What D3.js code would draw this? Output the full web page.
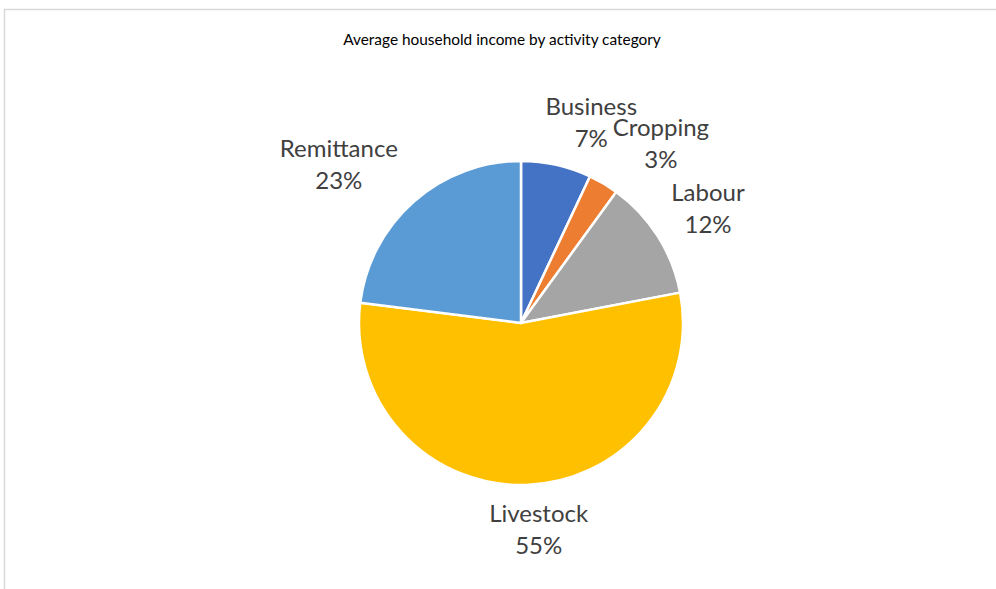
<!DOCTYPE html>
<html>
<head>
<meta charset="utf-8">
<script src="https://cdn.jsdelivr.net/npm/d3@7/dist/d3.min.js"></script>
<style>
  html, body { margin: 0; padding: 0; background: #fff; }
  svg { display: block; }
</style>
</head>
<body>
<svg id="chart" width="996" height="589"></svg>
<script>
// Income shares by activity (percent of average household income)
const categories = ["Business", "Cropping", "Labour", "Livestock", "Remittance"];
const shares = [7, 3, 12, 55, 23];
const sliceColors = ["#4472C4", "#ED7D31", "#A5A5A5", "#FFC000", "#5B9BD5"];
const chartTitle = "Average household income by activity category";

const width = 996, height = 589;
const cx = 521, cy = 323, radius = 162;
const labelRadius = 212;
const fontFamily = "Lato, 'Open Sans', 'Noto Sans', sans-serif";

// Small per-label adjustments so neighbouring labels do not collide
const labelShift = {
  Business: [24, -1],
  Cropping: [32, -5],
  Labour: [8, -8],
  Livestock: [11, -13],
  Remittance: [-42, -7]
};

const svg = d3.select("#chart");

// Chart area frame
svg.append("rect")
  .attr("x", 4.5).attr("y", 9.5)
  .attr("width", width + 20).attr("height", height + 20)
  .attr("fill", "#fff")
  .attr("stroke", "#d9d9d9")
  .attr("stroke-width", 1.5);

svg.append("text")
  .attr("x", 502).attr("y", 45)
  .attr("text-anchor", "middle")
  .attr("font-family", fontFamily)
  .attr("font-size", 15.4)
  .attr("fill", "#000")
  .text(chartTitle);

const data = categories.map((c, i) => ({ name: c, value: shares[i], color: sliceColors[i] }));

const pie = d3.pie().value(d => d.value).sort(null);
const arcs = pie(data);

const arc = d3.arc().innerRadius(0).outerRadius(radius);
const labelArc = d3.arc().innerRadius(labelRadius).outerRadius(labelRadius);

const g = svg.append("g").attr("transform", `translate(${cx},${cy})`);

g.selectAll("path.slice")
  .data(arcs)
  .join("path")
  .attr("class", "slice")
  .attr("d", arc)
  .attr("fill", d => d.data.color)
  .attr("stroke", "#fff")
  .attr("stroke-width", 2.5)
  .attr("stroke-linejoin", "round");

const labels = g.selectAll("text.label")
  .data(arcs)
  .join("text")
  .attr("class", "label")
  .attr("text-anchor", "middle")
  .attr("font-family", fontFamily)
  .attr("font-size", 24)
  .attr("fill", "#404040")
  .attr("transform", d => {
    const [x, y] = labelArc.centroid(d);
    const [dx, dy] = labelShift[d.data.name] || [0, 0];
    return `translate(${x + dx},${y + dy})`;
  });

labels.append("tspan")
  .attr("x", 0).attr("y", 0)
  .text(d => d.data.name);

labels.append("tspan")
  .attr("x", 0).attr("y", 32)
  .text(d => `${d.data.value}%`);
</script>
</body>
</html>
